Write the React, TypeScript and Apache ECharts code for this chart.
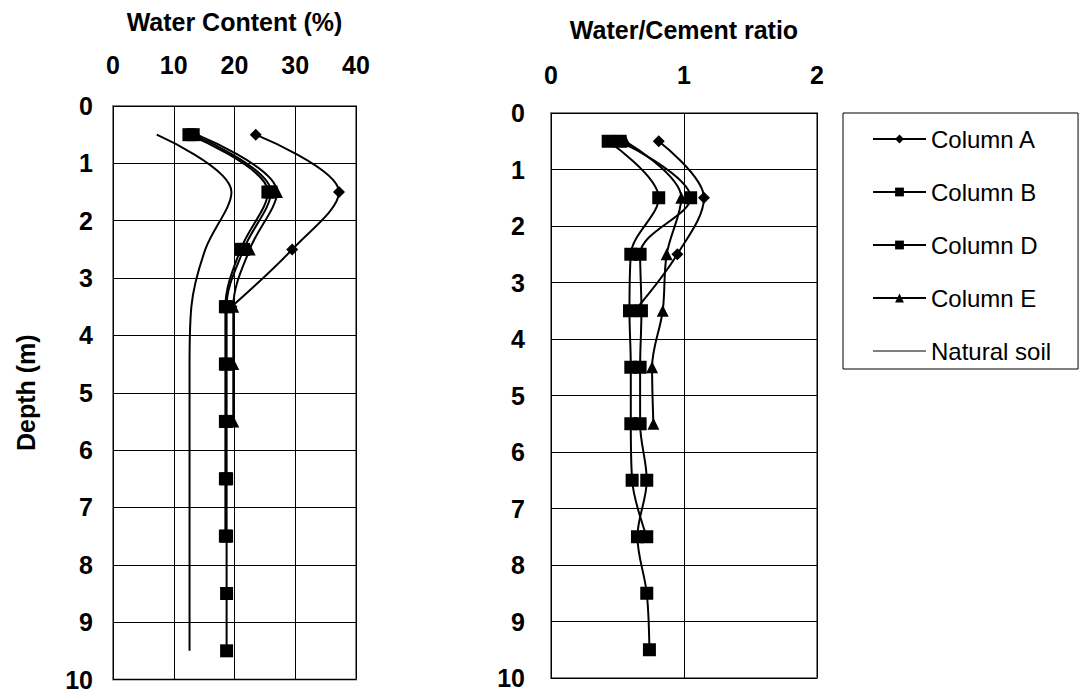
import React, { useEffect, useRef } from "react";
import * as echarts from "echarts";

const depths = [0.5, 1.5, 2.5, 3.5, 4.5, 5.5, 6.5, 7.5, 8.5, 9.5];

// Water content (%)
const wcA = [23.5, 37.2, 29.5, 19.5];
const wcB = [12.5, 25.5, 21.0, 18.5, 18.5, 18.5, 18.5, 18.5];
const wcD = [13.2, 26.0, 21.5, 18.7, 18.7, 18.7, 18.7, 18.7, 18.7, 18.7];
const wcE = [13.8, 27.0, 22.5, 19.8, 19.8, 19.8];
const wcNatural = [7.2, 19.5, 15.2, 12.9, 12.6, 12.6, 12.6, 12.6, 12.6, 12.6];

// Water/Cement ratio
const wcrA = [0.81, 1.15, 0.95, 0.63];
const wcrB = [0.43, 0.81, 0.6, 0.59, 0.6, 0.6, 0.61, 0.72];
const wcrD = [0.52, 1.05, 0.67, 0.68, 0.67, 0.67, 0.72, 0.65, 0.72, 0.74];
const wcrE = [0.56, 0.98, 0.87, 0.84, 0.76, 0.77];

const FONT = "'Liberation Sans', Arial, sans-serif";

const pairs = (vals: number[]) => vals.map((v, i) => [v, depths[i]]);

const symbols: Record<string, [string, number]> = {
  "Column A": ["diamond", 12],
  "Column B": ["rect", 13],
  "Column D": ["rect", 13],
  "Column E": ["triangle", 12],
};

function mkSeries(name: string, vals: number[], idx: number) {
  const s = symbols[name];
  return {
    name,
    type: "line",
    xAxisIndex: idx,
    yAxisIndex: idx,
    data: pairs(vals),
    smooth: 0.35,
    symbol: s ? s[0] : "none",
    symbolSize: s ? s[1] : 0,
    showSymbol: !!s,
    lineStyle: { color: "#000", width: 2 },
    itemStyle: { color: "#000" },
    z: name === "Natural soil" ? 2 : 3,
  };
}

export default function App() {
  const ref = useRef<HTMLDivElement>(null);
  useEffect(() => {
    document.body.style.margin = "0";
    const chart = echarts.init(ref.current!, undefined, { renderer: "svg" });
    const labelStyle = { fontFamily: FONT, fontWeight: "bold", fontSize: 25, color: "#000" };
    const nameStyle = { fontFamily: FONT, fontWeight: "bold", fontSize: 25, color: "#000" };
    const splitLine = { show: true, lineStyle: { color: "#000", width: 1 } };
    chart.setOption({
      animation: false,
      backgroundColor: "#fff",
      grid: [
        { left: 113, top: 106, width: 243, height: 574, show: true, borderColor: "#808080", borderWidth: 2, backgroundColor: "transparent" },
        { left: 551, top: 113, width: 266, height: 565, show: true, borderColor: "#808080", borderWidth: 2, backgroundColor: "transparent" },
      ],
      xAxis: [
        {
          gridIndex: 0, type: "value", position: "top", min: 0, max: 40, interval: 10,
          axisLine: { show: false }, axisTick: { show: false },
          axisLabel: { ...labelStyle, margin: 29 },
          splitLine,
          name: "Water Content (%)", nameLocation: "middle", nameGap: 72,
          nameTextStyle: nameStyle,
        },
        {
          gridIndex: 1, type: "value", position: "top", min: 0, max: 2, interval: 1,
          axisLine: { show: false }, axisTick: { show: false },
          axisLabel: { ...labelStyle, margin: 26 },
          splitLine,
          name: "Water/Cement ratio", nameLocation: "middle", nameGap: 71,
          nameTextStyle: nameStyle,
        },
      ],
      yAxis: [
        {
          gridIndex: 0, type: "value", inverse: true, min: 0, max: 10, interval: 1,
          axisLine: { show: false }, axisTick: { show: false },
          axisLabel: { ...labelStyle, margin: 20 },
          splitLine,
          name: "Depth (m)", nameLocation: "middle", nameGap: 75, nameRotate: 90,
          nameTextStyle: nameStyle,
        },
        {
          gridIndex: 1, type: "value", inverse: true, min: 0, max: 10, interval: 1,
          axisLine: { show: false }, axisTick: { show: false },
          axisLabel: { ...labelStyle, margin: 26 },
          splitLine,
        },
      ],
      legend: {
        orient: "vertical",
        left: 843,
        top: 113,
        padding: [14, 27, 6, 29],
        itemGap: 29,
        itemWidth: 53,
        itemHeight: 11,
        borderColor: "#000",
        borderWidth: 1,
        textStyle: { fontFamily: FONT, fontSize: 24, color: "#000" },
        data: [
          "Column A",
          "Column B",
          "Column D",
          "Column E",
          {
            name: "Natural soil",
            lineStyle: { width: 1 },
            itemStyle: { color: "rgba(0,0,0,0)", borderWidth: 0, opacity: 0 },
          },
        ],
      },
      series: [
        mkSeries("Natural soil", wcNatural, 0),
        mkSeries("Column A", wcA, 0),
        mkSeries("Column B", wcB, 0),
        mkSeries("Column D", wcD, 0),
        mkSeries("Column E", wcE, 0),
        mkSeries("Column A", wcrA, 1),
        mkSeries("Column B", wcrB, 1),
        mkSeries("Column D", wcrD, 1),
        mkSeries("Column E", wcrE, 1),
      ],
    });
    return () => chart.dispose();
  }, []);
  return <div ref={ref} style={{ width: 1079, height: 692 }} />;
}
